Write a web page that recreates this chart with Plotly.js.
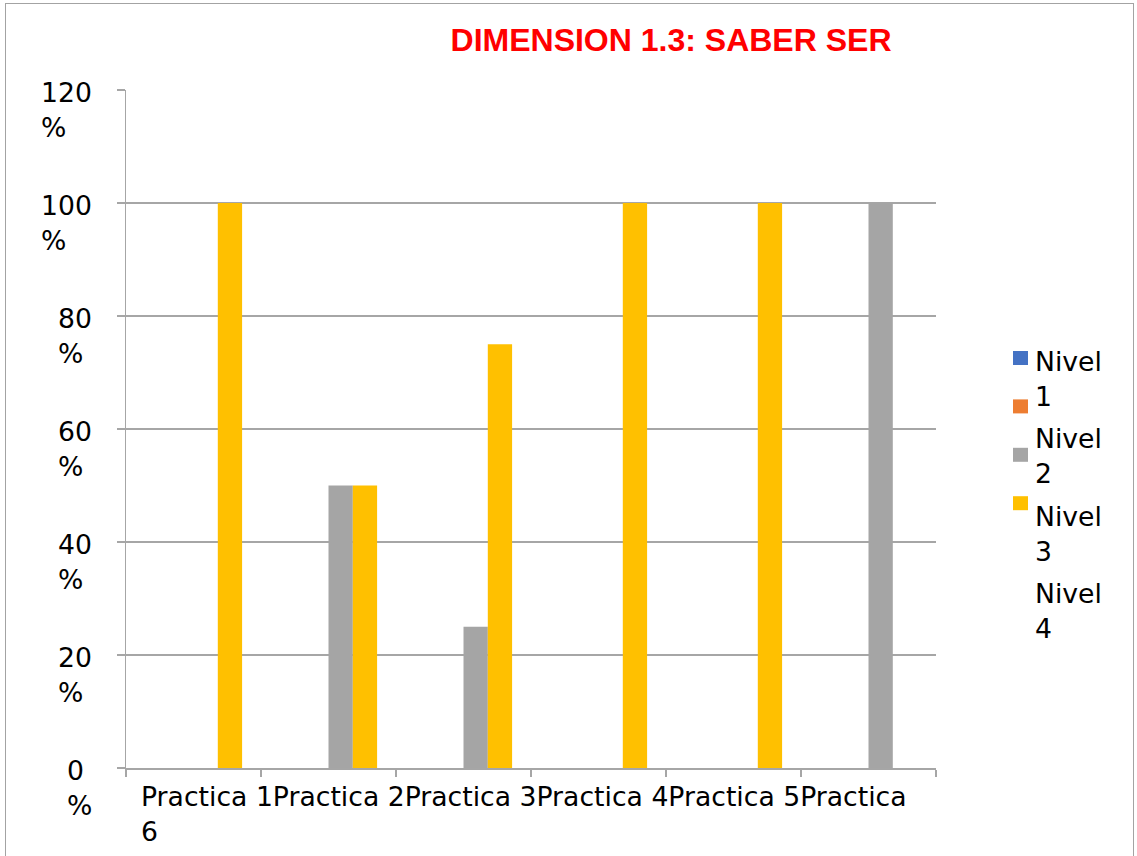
<!DOCTYPE html>
<html>
<head>
<meta charset="utf-8">
<script src="https://cdn.plot.ly/plotly-3.0.1.min.js"></script>
<style>
  html, body { margin: 0; padding: 0; background: #fff; }
  #wrap { position: relative; width: 1137px; height: 856px; overflow: hidden; }
  #chart { position: absolute; left: 0; top: 0; width: 1137px; height: 856px; }
  #frame { position: absolute; left: 5px; top: 3px; width: 1129px; height: 900px;
           border: 1.5px solid #a3a3a3; pointer-events: none; box-sizing: border-box; }
</style>
</head>
<body>
<div id="wrap">
  <div id="chart"></div>
  <div id="frame"></div>
</div>
<script>
// ---- data ----
const categories = ['Practica 1', 'Practica 2', 'Practica 3', 'Practica 4', 'Practica 5', 'Practica 6'];
const seriesNames = ['Nivel 1', 'Nivel 2', 'Nivel 3', 'Nivel 4'];
const nivel1 = [0, 0, 0, 0, 0, 0];
const nivel2 = [0, 0, 0, 0, 0, 0];
const nivel3 = [0, 50, 25, 0, 0, 100];
const nivel4 = [100, 50, 75, 100, 100, 0];
const seriesColors = ['#4472C4', '#ED7D31', '#A5A5A5', '#FFC000'];
const yTickVals = [0, 20, 40, 60, 80, 100, 120];
const yTickText = yTickVals.map(v => v + '<br>%');
const titleText = 'DIMENSION 1.3: SABER SER';

// ---- geometry helpers (pixels -> paper) ----
const W = 1137, H = 856;
const M = { l: 126, r: 201, t: 90, b: 88 };
const PW = W - M.l - M.r, PH = H - M.t - M.b;
const px2x = p => (p - M.l) / PW;
const py2y = p => (H - M.b - p) / PH;

const FONT = 'DejaVu Sans, Verdana, sans-serif';
const FS = 26.67;
const values = [nivel1, nivel2, nivel3, nivel4];

const traces = values.map((vals, i) => ({
  type: 'bar',
  name: seriesNames[i],
  x: categories,
  y: vals,
  marker: { color: seriesColors[i], line: { width: 0 } },
  showlegend: false,
  hovertemplate: '%{x}: %{y}%<extra>' + seriesNames[i] + '</extra>'
}));

const annotations = [];
// y tick labels
yTickVals.forEach((v, i) => {
  annotations.push({
    xref: 'paper', yref: 'y', x: px2x(94), y: v,
    xanchor: 'right', yanchor: 'middle', align: 'left',
    yshift: -20, showarrow: false,
    text: yTickText[i],
    font: { family: FONT, size: FS, color: '#000' }
  });
});
// x category labels (rendered as one run, wrapping the last number)
const xLabel = categories.join('');
const cut = xLabel.lastIndexOf(' ');
annotations.push({
  xref: 'paper', yref: 'paper', x: px2x(139), y: py2y(779),
  xanchor: 'left', yanchor: 'top', align: 'left', showarrow: false,
  text: xLabel.slice(0, cut) + '<br>' + xLabel.slice(cut + 1),
  font: { family: FONT, size: FS, color: '#000' }
});

// legend (texts and symbols)
const shapes = [];
seriesNames.forEach((n, i) => {
  const symTop = 351 + i * 48.4;
  if (i < seriesColors.length) {
    shapes.push({
      type: 'rect', xref: 'paper', yref: 'paper',
      x0: px2x(1013), x1: px2x(1028), y0: py2y(symTop), y1: py2y(symTop + 14),
      fillcolor: seriesColors[i], line: { width: 0 }
    });
  }
  const textMid = 379 + i * 77.3;
  annotations.push({
    xref: 'paper', yref: 'paper', x: px2x(1033), y: py2y(textMid),
    xanchor: 'left', yanchor: 'middle', align: 'left', showarrow: false,
    text: n.replace(' ', '<br>'),
    font: { family: FONT, size: FS, color: '#000' }
  });
});

const layout = {
  width: W, height: H,
  margin: M,
  paper_bgcolor: '#fff', plot_bgcolor: '#fff',
  title: {
    text: titleText,
    x: 671 / W, xanchor: 'center', xref: 'container',
    y: 1 - 40 / H, yanchor: 'middle', yref: 'container',
    font: { family: 'Liberation Sans, Arial, sans-serif', size: 32, color: '#FF0000', weight: 'bold' }
  },
  barmode: 'group',
  bargap: 0.28,
  bargroupgap: 0,
  showlegend: false,
  xaxis: {
    type: 'category',
    range: [-0.5, categories.length - 0.5],
    tickson: 'boundaries',
    ticks: 'outside', ticklen: 7, tickwidth: 1.5, tickcolor: '#a6a6a6',
    showline: true, linecolor: '#a6a6a6', linewidth: 1.5,
    showgrid: false, showticklabels: false, zeroline: false,
    fixedrange: true
  },
  yaxis: {
    range: [0, 120],
    tickmode: 'array', tickvals: yTickVals,
    ticks: 'outside', ticklen: 8, tickwidth: 1.5, tickcolor: '#a6a6a6',
    showline: true, linecolor: '#a6a6a6', linewidth: 1.5,
    showgrid: true, gridcolor: '#a6a6a6', gridwidth: 1.5,
    showticklabels: false, zeroline: false,
    fixedrange: true
  },
  annotations: annotations,
  shapes: shapes
};

Plotly.newPlot('chart', traces, layout, { displayModeBar: false, staticPlot: true });
</script>
</body>
</html>
